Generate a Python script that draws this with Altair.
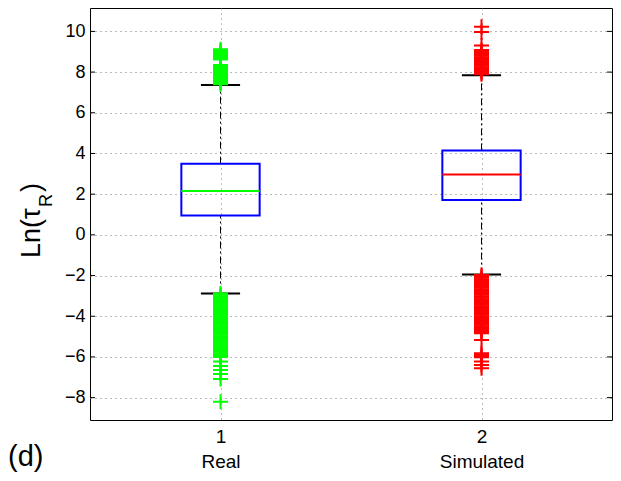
import altair as alt
import pandas as pd

# ---------------- data ----------------
groups = ["Real", "Simulated"]
positions = [1, 2]
q1 = [0.95, 1.71]
median = [2.15, 2.97]
q3 = [3.50, 4.15]
whisk_lo = [-2.88, -1.95]
whisk_hi = [7.37, 7.84]
median_colors = ["#00ff00", "#ff0000"]

real_out_hi = [7.40, 7.46, 7.52, 7.58, 7.63, 7.69, 7.75, 7.81, 7.87, 7.93, 7.99,
               8.05, 8.11, 8.17, 8.23, 8.29, 8.35, 8.62, 8.68, 8.74, 8.80, 8.86,
               8.93, 8.99, 9.05, 9.12]
real_out_lo = [-2.88, -2.95, -3.02, -3.09, -3.16, -3.23, -3.30, -3.37, -3.44, -3.51,
               -3.58, -3.65, -3.72, -3.79, -3.86, -3.93, -4.00, -4.07, -4.14, -4.21,
               -4.28, -4.35, -4.42, -4.49, -4.56, -4.63, -4.70, -4.77, -4.84, -4.91,
               -4.98, -5.05, -5.12, -5.19, -5.26, -5.33, -5.40, -5.47, -5.54, -5.61,
               -5.68, -5.75, -5.82, -5.89, -5.96, -6.00, -6.23, -6.44, -6.64, -6.84,
               -7.09, -8.20]
sim_out_hi = [7.89, 7.96, 8.03, 8.10, 8.17, 8.24, 8.31, 8.38, 8.45, 8.52, 8.59,
              8.66, 8.73, 8.80, 8.87, 8.94, 9.01, 9.08, 9.31, 9.97, 10.23]
sim_out_lo = [-1.97, -2.04, -2.11, -2.18, -2.25, -2.32, -2.39, -2.46, -2.53, -2.60,
              -2.67, -2.74, -2.81, -2.88, -2.95, -3.02, -3.09, -3.16, -3.23, -3.30,
              -3.37, -3.44, -3.51, -3.58, -3.65, -3.72, -3.79, -3.86, -3.93, -4.00,
              -4.07, -4.14, -4.21, -4.28, -4.35, -4.42, -4.49, -4.56, -4.63, -4.70,
              -4.77, -4.84, -5.17, -5.82, -5.89, -5.96, -6.02, -6.23, -6.40, -6.56]

y_ticks = [-8, -6, -4, -2, 0, 2, 4, 6, 8, 10]
x_tick_labels = ["1", "2"]

title_main = ["Ln(τ"]
title_sub = ["R"]
title_close = [")"]
panel_label = ["(d)"]

# ---------------- tables ----------------
stats = pd.DataFrame({
    "group": groups, "pos": positions, "q1": q1, "med": median, "q3": q3,
    "lo": whisk_lo, "hi": whisk_hi, "color": median_colors,
})

out_rows = []
for v in real_out_hi + real_out_lo:
    out_rows.append({"pos": positions[0], "value": v, "color": median_colors[0]})
for v in sim_out_hi + sim_out_lo:
    out_rows.append({"pos": positions[1], "value": v, "color": median_colors[1]})
outliers = pd.DataFrame(out_rows)
ticks_df = pd.DataFrame({"t": y_ticks})

FONT = "Liberation Sans"
W, H = 522, 412
BOX_HALF = 0.15
CAP_HALF = 0.075

xscale = alt.Scale(domain=[0.5, 2.5], nice=False, zero=False)
yscale = alt.Scale(domain=[-9.1, 11.15], nice=False, zero=False)

label_expr = ("datum.value == 1 ? ['%s', '%s'] : ['%s', '%s']"
              % (x_tick_labels[0], groups[0], x_tick_labels[1], groups[1]))

xaxis = alt.Axis(values=positions, title=None, ticks=False, domain=False,
                 labelExpr=label_expr, labelFont=FONT, labelFontSize=19,
                 labelColor="black", labelLineHeight=25, labelPadding=7,
                 grid=True, gridColor="#777777", gridDash=[1, 4], gridWidth=1)
yaxis = alt.Axis(values=y_ticks, title=None, ticks=False, domain=False,
                 labelFont=FONT, labelFontSize=18, labelColor="black",
                 labelPadding=5, grid=True, gridColor="#777777",
                 gridDash=[1, 4], gridWidth=1)


def X(field):
    return alt.X(field, type="quantitative", scale=xscale, axis=xaxis)


def Y(field):
    return alt.Y(field, type="quantitative", scale=yscale, axis=yaxis)


base = alt.Chart(stats)

whisk_hi_l = base.mark_rule(color="black", strokeWidth=1, strokeDash=[7, 3, 2, 3]).encode(
    x=X("pos"), y=Y("q3"), y2="hi")
whisk_lo_l = base.mark_rule(color="black", strokeWidth=1, strokeDash=[7, 3, 2, 3]).encode(
    x=X("pos"), y=Y("lo"), y2="q1")

box = base.mark_rect(fillOpacity=0, stroke="#0000ff", strokeWidth=2).transform_calculate(
    xa=f"datum.pos - {BOX_HALF}", xb=f"datum.pos + {BOX_HALF}").encode(
    x=X("xa"), x2="xb", y=Y("q1"), y2="q3")

med = base.mark_rule(strokeWidth=2).transform_calculate(
    xa=f"datum.pos - {BOX_HALF}", xb=f"datum.pos + {BOX_HALF}").encode(
    x=X("xa"), x2="xb", y=Y("med"), color=alt.Color("color:N", scale=None))

cap_hi = base.mark_rule(color="black", strokeWidth=2).transform_calculate(
    xa=f"datum.pos - {CAP_HALF}", xb=f"datum.pos + {CAP_HALF}").encode(
    x=X("xa"), x2="xb", y=Y("hi"))
cap_lo = base.mark_rule(color="black", strokeWidth=2).transform_calculate(
    xa=f"datum.pos - {CAP_HALF}", xb=f"datum.pos + {CAP_HALF}").encode(
    x=X("xa"), x2="xb", y=Y("lo"))

pts = alt.Chart(outliers).mark_point(
    shape="M-1,0H1M0,-1V1", size=225, filled=False, strokeWidth=2, opacity=1
).encode(x=X("pos"), y=Y("value"), color=alt.Color("color:N", scale=None))

# inward tick marks on left and right axes
tick_l = alt.Chart(ticks_df).mark_rule(color="black", strokeWidth=1).encode(
    x=alt.value(0), x2=alt.value(5), y=Y("t"))
tick_r = alt.Chart(ticks_df).mark_rule(color="black", strokeWidth=1).encode(
    x=alt.value(W - 5), x2=alt.value(W), y=Y("t"))

t_main = alt.Chart(pd.DataFrame({"s": title_main})).mark_text(
    font=FONT, fontSize=27, angle=270, align="left", baseline="alphabetic", color="black"
).encode(text="s:N", x=alt.value(-50), y=alt.value(250))
t_sub = alt.Chart(pd.DataFrame({"s": title_sub})).mark_text(
    font=FONT, fontSize=18, angle=270, align="left", baseline="alphabetic", color="black"
).encode(text="s:N", x=alt.value(-38), y=alt.value(199))
t_close = alt.Chart(pd.DataFrame({"s": title_close})).mark_text(
    font=FONT, fontSize=27, angle=270, align="left", baseline="alphabetic", color="black"
).encode(text="s:N", x=alt.value(-50), y=alt.value(184))
t_panel = alt.Chart(pd.DataFrame({"s": panel_label})).mark_text(
    font=FONT, fontSize=29, align="left", baseline="alphabetic", color="black"
).encode(text="s:N", x=alt.value(-82), y=alt.value(458))

chart = alt.layer(
    whisk_hi_l, whisk_lo_l, box, med, cap_hi, cap_lo, pts, tick_l, tick_r,
    t_main, t_sub, t_close, t_panel
).properties(
    width=W, height=H, autosize="none", background="white",
    padding={"left": 82, "top": 0, "right": 1, "bottom": 53},
).configure_view(stroke="black", strokeWidth=1)

chart.save("out.html", embed_options={"renderer": "svg", "actions": False})
